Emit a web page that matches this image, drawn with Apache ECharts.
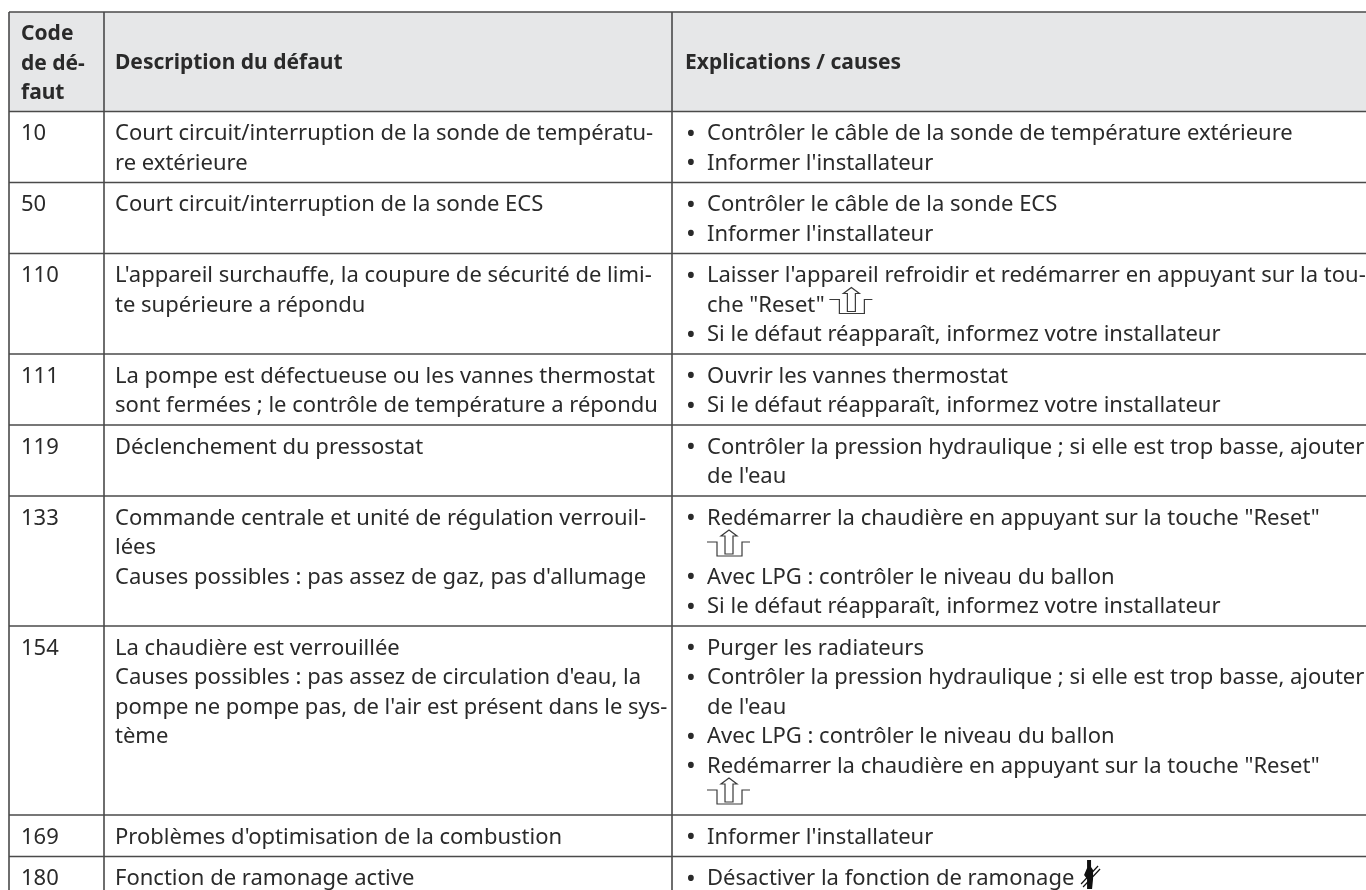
<!DOCTYPE html>
<html>
<head>
<meta charset="utf-8">
<style>html,body{margin:0;padding:0;background:#fff}#main{width:1366px;height:890px}</style>
<script src="https://cdn.jsdelivr.net/npm/echarts@6/dist/echarts.min.js"></script>
</head>
<body>
<div id="main"></div>
<script>
// contenu du tableau
var headers = ['Code\nde dé-\nfaut', 'Description du défaut', 'Explications / causes'];
var codes = ['10', '50', '110', '111', '119', '133', '154', '169', '180'];
var descriptions = [
    "Court circuit/interruption de la sonde de températu-\nre extérieure",
    "Court circuit/interruption de la sonde ECS",
    "L'appareil surchauffe, la coupure de sécurité de limi-\nte supérieure a répondu",
    "La pompe est défectueuse ou les vannes thermostat\nsont fermées ; le contrôle de température a répondu",
    "Déclenchement du pressostat",
    "Commande centrale et unité de régulation verrouil-\nlées\nCauses possibles : pas assez de gaz, pas d'allumage",
    "La chaudière est verrouillée\nCauses possibles : pas assez de circulation d'eau, la\npompe ne pompe pas, de l'air est présent dans le sys-\ntème",
    "Problèmes d'optimisation de la combustion",
    "Fonction de ramonage active"
];
// [R] = symbole reset, [S] = symbole ramoneur
var explanations = [
    ["Contrôler le câble de la sonde de température extérieure", "Informer l'installateur"],
    ["Contrôler le câble de la sonde ECS", "Informer l'installateur"],
    ["Laisser l'appareil refroidir et redémarrer en appuyant sur la tou-\nche \"Reset\" [R]", "Si le défaut réapparaît, informez votre installateur"],
    ["Ouvrir les vannes thermostat", "Si le défaut réapparaît, informez votre installateur"],
    ["Contrôler la pression hydraulique ; si elle est trop basse, ajouter\nde l'eau"],
    ["Redémarrer la chaudière en appuyant sur la touche \"Reset\"\n[R]", "Avec LPG : contrôler le niveau du ballon", "Si le défaut réapparaît, informez votre installateur"],
    ["Purger les radiateurs", "Contrôler la pression hydraulique ; si elle est trop basse, ajouter\nde l'eau", "Avec LPG : contrôler le niveau du ballon", "Redémarrer la chaudière en appuyant sur la touche \"Reset\"\n[R]"],
    ["Informer l'installateur"],
    ["Désactiver la fonction de ramonage [S]"]
];

var FONT = '"Noto Sans", sans-serif';
var FONT_SIZE = 22;
var BOLD_SIZE = 21;
var TEXT_COLOR = '#2a2a2a';
var LINE_COLOR = '#4a4a4a';
var LINE_H = 29.5;
var COL_X = [9, 104, 672, 1366];
var TABLE_TOP = 12;

function lineCount(s) { return s.split('\n').length; }
function explLines(list) {
    var n = 0;
    list.forEach(function (b) { n += lineCount(b); });
    return n;
}

// hauteur de ligne = nombre de lignes de texte + marge
var rowTops = [TABLE_TOP, TABLE_TOP + 3 * LINE_H + 11];
codes.forEach(function (c, i) {
    var n = Math.max(lineCount(descriptions[i]), explLines(explanations[i]));
    rowTops.push(rowTops[rowTops.length - 1] + n * LINE_H + 12);
});

var measureCtx = document.createElement('canvas').getContext('2d');
measureCtx.font = FONT_SIZE + 'px ' + FONT;

function textEl(api, x, y, str, bold, size) {
    var p = api.coord([x, y]);
    return {
        type: 'text',
        style: {
            x: p[0], y: p[1], text: str,
            font: (bold ? 'bold ' + BOLD_SIZE : (size || FONT_SIZE)) + 'px ' + FONT,
            fill: TEXT_COLOR, textVerticalAlign: 'middle', textAlign: 'left'
        }
    };
}

function resetIcon(api, x, y) {
    // symbole "reset" : marche + fleche vers le haut
    var p = api.coord([x, y]);
    return {
        type: 'group',
        x: p[0], y: p[1],
        children: [{
            type: 'polyline',
            shape: { points: [[0, -6], [10, -6], [10, 8], [35, 8], [35, -6], [43, -6]] },
            style: { fill: null, stroke: '#3a3a3a', lineWidth: 1.2 }
        }, {
            type: 'polygon',
            shape: { points: [[22, -18], [30, -12], [26, -12], [26, 6], [18, 6], [18, -12], [14, -12]] },
            style: { fill: '#fff', stroke: '#3a3a3a', lineWidth: 1.2 }
        }]
    };
}

function sweepIcon(api, x, y) {
    // ramoneur : silhouette noire et echelle
    var p = api.coord([x, y]);
    return {
        type: 'group',
        x: p[0], y: p[1],
        children: [{
            type: 'polygon',
            shape: { points: [[6, -19], [10, -19], [10, -12], [12, -9], [12, 0], [11, 10], [6, 10], [6, 0], [3, -4], [6, -11]] },
            style: { fill: '#111' }
        }, {
            type: 'line',
            shape: { x1: 17, y1: -13, x2: 0, y2: 5 },
            style: { stroke: '#111', lineWidth: 1.2 }
        }, {
            type: 'line',
            shape: { x1: 19, y1: -10, x2: 2, y2: 8 },
            style: { stroke: '#111', lineWidth: 1.2 }
        }]
    };
}

function multiline(api, out, x, top, str, bold) {
    str.split('\n').forEach(function (ln, k) {
        var y = top + 22.5 + k * LINE_H;
        var rIdx = ln.indexOf('[R]');
        var sIdx = ln.indexOf('[S]');
        if (rIdx >= 0) {
            var before = ln.slice(0, rIdx);
            if (before) out.push(textEl(api, x, y, before, bold));
            out.push(resetIcon(api, x + measureCtx.measureText(before).width - (before ? 1 : 0), y));
        } else if (sIdx >= 0) {
            var b2 = ln.slice(0, sIdx);
            out.push(textEl(api, x, y, b2, bold));
            out.push(sweepIcon(api, x + measureCtx.measureText(b2).width + 1, y));
        } else {
            out.push(textEl(api, x, y, ln, bold));
        }
    });
}

function renderRow(params, api) {
    var i = api.value(0);
    var out = [];
    if (i === 0) {
        // entete
        var a = api.coord([COL_X[0], rowTops[0]]);
        var b = api.coord([COL_X[3], rowTops[1]]);
        out.push({ type: 'rect', shape: { x: a[0], y: a[1], width: b[0] - a[0], height: b[1] - a[1] }, style: { fill: '#e6e7e8' } });
        multiline(api, out, COL_X[0] + 12, rowTops[0], headers[0], true);
        out.push(textEl(api, COL_X[1] + 11, rowTops[0] + 51.5, headers[1], true));
        out.push(textEl(api, COL_X[2] + 13, rowTops[0] + 51.5, headers[2], true));
    } else {
        var r = i - 1;
        var top = rowTops[i];
        multiline(api, out, COL_X[0] + 12, top, codes[r]);
        multiline(api, out, COL_X[1] + 11, top, descriptions[r]);
        var n = 0;
        explanations[r].forEach(function (bul) {
            var y = top + n * LINE_H;
            out.push(textEl(api, COL_X[2] + 14, y + 23, '•', false, 26));
            multiline(api, out, COL_X[2] + 35, y, bul);
            n += lineCount(bul);
        });
    }
    return { type: 'group', children: out };
}

function renderGridLines(params, api) {
    var out = [];
    var lineStyle = { stroke: LINE_COLOR, lineWidth: 1.6 };
    rowTops.forEach(function (t) {
        var a = api.coord([COL_X[0], t]);
        var b = api.coord([COL_X[3], t]);
        out.push({ type: 'line', shape: { x1: a[0], y1: a[1], x2: b[0], y2: b[1] }, style: lineStyle });
    });
    COL_X.slice(0, 3).forEach(function (x) {
        var a = api.coord([x, TABLE_TOP]);
        var b = api.coord([x, 890]);
        out.push({ type: 'line', shape: { x1: a[0], y1: a[1], x2: b[0], y2: b[1] }, style: lineStyle });
    });
    return { type: 'group', children: out };
}

var rowIndex = [];
for (var i = 0; i <= codes.length; i++) rowIndex.push([i]);

var myChart = echarts.init(document.getElementById('main'), null, { renderer: 'canvas' });
var option = {
    animation: false,
    backgroundColor: '#fff',
    grid: { left: 0, right: 0, top: 0, bottom: 0 },
    xAxis: { type: 'value', min: 0, max: 1366, show: false },
    yAxis: { type: 'value', min: 0, max: 890, inverse: true, show: false },
    series: [
        { type: 'custom', silent: true, clip: true, renderItem: renderRow, data: rowIndex, z: 1 },
        { type: 'custom', silent: true, clip: true, renderItem: renderGridLines, data: [[0]], z: 2 }
    ]
};
myChart.setOption(option);
</script>
</body>
</html>
